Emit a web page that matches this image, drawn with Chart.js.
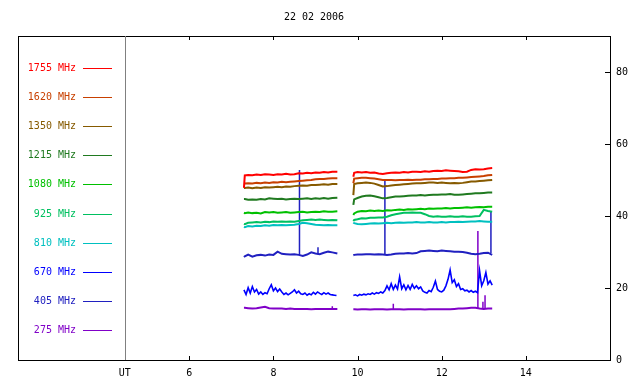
<!DOCTYPE html>
<html><head><meta charset="utf-8">
<script src="https://cdn.jsdelivr.net/npm/chart.js@4/dist/chart.umd.min.js"></script>
<style>html,body{margin:0;padding:0;background:#fff}canvas{display:block}</style>
</head><body>
<canvas id="c" width="640" height="384"></canvas>
<script>
// ---- data ----
const title = '22 02 2006';
const freqs = ['1755 MHz','1620 MHz','1350 MHz','1215 MHz','1080 MHz','925 MHz','810 MHz','670 MHz','405 MHz','275 MHz'];
const colors = ['#ff0000','#c84000','#865a00','#207a20','#00c000','#00c060','#00c0c0','#0000ff','#2020c0','#8000c8'];
const xTickVals = [4.47, 6, 8, 10, 12, 14];
const xTickLabels = ['UT', '6', '8', '10', '12', '14'];
const yTickVals = [0, 20, 40, 60, 80];

// segment 1 and 2 time grids (UT hours)
const t1 = [7.3,7.32,7.4,7.5,7.6,7.7,7.8,7.9,8.0,8.1,8.2,8.3,8.4,8.5,8.6,8.7,8.8,8.9,9.0,9.1,9.2,9.3,9.4,9.52];
const t2 = [9.9,9.92,10.0,10.1,10.2,10.3,10.4,10.5,10.6,10.7,10.8,10.9,11.0,11.1,11.2,11.3,11.4,11.5,11.6,11.7,11.8,11.9,12.0,12.1,12.2,12.3,12.4,12.5,12.6,12.7,12.8,12.9,13.0,13.1,13.2];

const f1755a = [47.8,51.3,51.4,51.3,51.5,51.4,51.6,51.5,51.4,51.6,51.5,51.7,51.5,51.6,51.9,51.8,52.0,51.9,52.1,52.0,52.2,52.1,52.3,52.3];
const f1755b = [50.9,52.0,52.2,52.1,52.2,52.0,52.1,51.8,51.7,51.9,52.0,52.1,52.0,52.2,52.1,52.3,52.3,52.2,52.4,52.3,52.5,52.6,52.5,52.7,52.6,52.5,52.4,52.2,52.3,52.8,53.0,52.9,53.0,53.2,53.3];
const f1620a = [49.0,49.0,49.1,49.0,49.2,49.1,49.3,49.2,49.4,49.3,49.5,49.4,49.5,49.6,49.7,49.8,49.9,50.0,50.2,50.3,50.3,50.4,50.5,50.5];
const f1620b = [49.1,50.4,50.5,50.6,50.6,50.5,50.4,50.2,50.0,50.0,50.0,49.9,50.0,50.0,50.1,50.0,50.1,50.1,50.2,50.2,50.3,50.3,50.4,50.4,50.5,50.5,50.6,50.6,50.7,50.8,50.9,51.0,51.1,51.3,51.4];
const f1350a = [47.8,47.8,47.9,47.7,47.9,47.8,48.0,47.9,48.0,48.1,48.0,48.2,48.1,48.3,48.4,48.5,48.4,48.6,48.6,48.7,48.8,48.7,48.9,48.9];
const f1350b = [45.8,48.9,49.1,49.2,49.3,49.2,49.0,48.6,48.2,48.3,48.5,48.6,48.7,48.8,48.9,49.0,49.1,49.1,49.2,49.3,49.3,49.2,49.3,49.2,49.1,49.2,49.1,49.2,49.4,49.6,49.6,49.7,49.8,49.9,50.0];
const f1215a = [44.7,44.7,44.5,44.6,44.5,44.7,44.6,44.9,44.8,44.7,44.8,44.6,44.7,44.8,44.7,44.8,44.9,44.7,44.9,44.8,45.0,44.8,45.0,45.1];
const f1215b = [43.1,44.6,45.0,45.4,45.6,45.7,45.5,45.2,44.9,45.0,45.2,45.4,45.4,45.5,45.6,45.7,45.7,45.8,45.7,45.8,45.9,45.9,46.0,46.0,46.1,45.9,45.9,46.0,46.1,46.2,46.3,46.3,46.4,46.5,46.5];
const f1080a = [40.9,40.8,41.0,40.8,40.9,40.7,41.1,41.0,41.1,40.9,41.0,41.1,40.9,41.0,41.1,41.2,41.0,41.1,41.2,41.1,41.3,41.2,41.2,41.3];
const f1080b = [40.3,40.7,41.2,41.4,41.3,41.5,41.4,41.5,41.4,41.6,41.5,41.7,41.8,41.7,41.9,41.8,41.9,42.0,41.9,42.1,42.0,42.1,42.1,42.2,42.1,42.2,42.2,42.3,42.4,42.3,42.4,42.5,42.4,42.6,42.6];
const f925a = [37.8,37.7,38.1,38.2,38.3,38.2,38.4,38.3,38.5,38.4,38.5,38.4,38.5,38.4,38.6,38.8,38.9,39.0,38.9,39.0,38.9,38.8,38.9,38.8];
const f925b = [38.6,38.9,39.1,39.4,39.3,39.5,39.5,39.6,39.6,39.8,40.2,40.5,40.7,40.9,40.9,41.0,40.9,40.9,40.5,40.0,39.8,39.9,39.8,39.8,39.9,39.8,39.8,39.9,39.8,39.8,39.9,40.0,41.7,41.4,41.2];
const f810a = [37.0,36.9,37.2,37.1,37.3,37.2,37.4,37.3,37.5,37.4,37.5,37.4,37.5,37.6,37.8,38.1,38.0,37.8,37.6,37.5,37.4,37.5,37.4,37.4];
const f810b = [38.2,38.0,37.8,37.7,37.8,37.9,38.0,37.9,38.0,38.1,38.0,38.1,38.2,38.1,38.2,38.2,38.3,38.2,38.2,38.3,38.2,38.2,38.3,38.2,38.3,38.3,38.4,38.3,38.4,38.5,38.5,38.6,38.5,38.4,38.4];
const f405a = [28.6,28.8,29.3,28.7,29.1,29.2,29.0,29.3,29.2,30.1,29.5,29.4,29.3,29.4,29.2,28.9,29.3,29.9,29.6,29.4,29.8,30.1,29.9,29.6];
const f405b = [29.1,29.2,29.3,29.3,29.4,29.4,29.3,29.4,29.3,29.2,29.3,29.5,29.6,29.6,29.7,29.6,29.7,30.2,30.3,30.4,30.3,30.2,30.4,30.3,30.2,30.1,30.1,30.0,29.8,29.5,29.4,29.5,29.7,29.8,29.2];
const f275a = [14.5,14.5,14.4,14.3,14.4,14.6,14.8,14.4,14.3,14.3,14.3,14.2,14.3,14.2,14.2,14.2,14.2,14.1,14.2,14.2,14.2,14.2,14.2,14.2];
const f275b = [14.1,14.1,14.0,14.1,14.1,14.0,14.1,14.1,14.1,14.0,14.1,14.1,14.1,14.0,14.1,14.1,14.1,14.1,14.0,14.1,14.1,14.1,14.1,14.1,14.1,14.2,14.3,14.3,14.4,14.5,14.5,14.3,14.2,14.3,14.3];

// 670 MHz is noisier: finer time grid
const tb1 = [7.30,7.35,7.40,7.45,7.50,7.55,7.60,7.65,7.70,7.75,7.80,7.85,7.90,7.95,8.00,8.05,8.10,8.15,8.20,8.25,8.30,8.35,8.40,8.45,8.50,8.55,8.60,8.65,8.70,8.75,8.80,8.85,8.90,8.95,9.00,9.05,9.10,9.15,9.20,9.25,9.30,9.35,9.40,9.45,9.50];
const f670a = [19.5,18.2,20.1,18.6,20.4,18.9,19.6,18.3,18.9,18.2,18.7,18.4,19.8,20.9,19.2,20.0,19.0,19.7,18.9,18.2,18.6,18.1,18.5,18.9,19.5,18.6,19.1,18.4,18.2,18.6,18.0,18.4,18.1,18.8,18.3,18.9,18.5,18.2,18.7,18.3,18.6,18.2,18.1,18.0,17.9];
const tb2 = [9.90,9.95,10.00,10.05,10.10,10.15,10.20,10.25,10.30,10.35,10.40,10.45,10.50,10.55,10.60,10.65,10.70,10.75,10.80,10.85,10.90,10.95,11.00,11.05,11.10,11.15,11.20,11.25,11.30,11.35,11.40,11.45,11.50,11.55,11.60,11.65,11.70,11.75,11.80,11.85,11.90,11.95,12.00,12.05,12.10,12.15,12.20,12.25,12.30,12.35,12.40,12.45,12.50,12.55,12.60,12.65,12.70,12.75,12.80,12.85,12.90,12.95,13.00,13.05,13.10,13.15,13.20];
const f670b = [17.9,18.1,17.8,18.2,18.0,18.3,18.1,18.4,18.2,18.6,18.3,18.7,18.5,18.9,18.6,19.3,20.6,19.5,21.2,19.6,20.8,19.7,23.1,19.8,20.9,19.5,20.7,19.6,21.0,19.9,20.6,19.8,20.3,19.2,18.8,18.6,19.3,19.0,20.2,21.9,19.6,19.1,18.9,19.4,20.6,22.4,25.0,21.5,22.3,20.4,21.2,19.6,19.8,19.2,19.4,18.9,19.3,18.8,19.1,18.7,24.8,20.6,22.0,24.3,21.1,22.0,20.8];

// isolated spikes
const spike405T = [8.62, 9.06, 10.65, 13.17];
const spike405Top = [52.8, 31.3, 49.8, 41.2];
const spike405Base = [29.2, 29.4, 29.3, 29.7];
const spike275T = [9.40, 10.85, 12.86, 12.98, 13.03];
const spike275Top = [14.9, 15.6, 35.8, 16.2, 18.0];
const spike275Base = [14.2, 14.0, 14.4, 14.2, 14.2];

// ---- build ----
const FONT = {family: '"DejaVu Sans Mono", monospace', size: 10};
function seg(ta, va, tb, vb) {
  const out = ta.map((t, i) => ({x: t, y: va[i]}));
  out.push({x: (ta[ta.length-1] + tb[0]) / 2, y: null});
  tb.forEach((t, i) => out.push({x: t, y: vb[i]}));
  return out;
}
function spikes(T, top, base) {
  const out = [];
  T.forEach((t, i) => { out.push({x: t, y: base[i]}, {x: t, y: top[i]}, {x: t, y: null}); });
  return out;
}
const seriesData = [
  seg(t1, f1755a, t2, f1755b), seg(t1, f1620a, t2, f1620b), seg(t1, f1350a, t2, f1350b),
  seg(t1, f1215a, t2, f1215b), seg(t1, f1080a, t2, f1080b), seg(t1, f925a, t2, f925b),
  seg(t1, f810a, t2, f810b), seg(tb1, f670a, tb2, f670b), seg(t1, f405a, t2, f405b),
  seg(t1, f275a, t2, f275b)
];
const datasets = seriesData.map((d, i) => ({
  label: freqs[i], data: d, borderColor: colors[i], borderWidth: i === 7 ? 1.6 : 2,
  pointRadius: 0, tension: 0, spanGaps: false, fill: false
}));
datasets.push({label: '405 spikes', data: spikes(spike405T, spike405Top, spike405Base), borderColor: colors[8], borderWidth: 1.5, pointRadius: 0, spanGaps: false});
datasets.push({label: '275 spikes', data: spikes(spike275T, spike275Top, spike275Base), borderColor: colors[9], borderWidth: 1.5, pointRadius: 0, spanGaps: false});

const decor = {
  id: 'decor',
  afterDraw(chart) {
    const ctx = chart.ctx, a = chart.chartArea, xs = chart.scales.x, ys = chart.scales.y;
    ctx.save();
    // frame
    ctx.strokeStyle = '#000'; ctx.lineWidth = 1;
    ctx.strokeRect(Math.round(a.left) + 0.5, Math.round(a.top) + 0.5, Math.round(a.right - a.left), Math.round(a.bottom - a.top));
    // UT separator
    const ux = Math.round(xs.getPixelForValue(xTickVals[0])) + 0.5;
    ctx.strokeStyle = '#808080';
    ctx.beginPath(); ctx.moveTo(ux, a.top); ctx.lineTo(ux, a.bottom); ctx.stroke();
    // x ticks (top & bottom, inward)
    ctx.strokeStyle = '#000';
    ctx.beginPath();
    xTickVals.slice(1).forEach(v => {
      const px = Math.round(xs.getPixelForValue(v)) + 0.5;
      ctx.moveTo(px, a.bottom); ctx.lineTo(px, a.bottom - 4);
      ctx.moveTo(px, a.top); ctx.lineTo(px, a.top + 4);
    });
    yTickVals.slice(1).forEach(v => {
      const py = Math.round(ys.getPixelForValue(v)) + 0.5;
      ctx.moveTo(a.right, py); ctx.lineTo(a.right - 5, py);
    });
    ctx.stroke();
    // title
    ctx.font = '10px "DejaVu Sans Mono", monospace';
    ctx.fillStyle = '#000'; ctx.textAlign = 'center'; ctx.textBaseline = 'middle';
    ctx.fillText(title, (a.left + a.right) / 2, 17);
    // legend
    freqs.forEach((f, i) => {
      const y = Math.round(a.top + 31.5 + 29.2 * i);
      ctx.fillStyle = colors[i]; ctx.textAlign = 'right';
      ctx.fillText(f, a.left + 58, y);
      ctx.strokeStyle = colors[i]; ctx.lineWidth = 1;
      ctx.beginPath(); ctx.moveTo(a.left + 65, y + 0.5); ctx.lineTo(a.left + 94, y + 0.5); ctx.stroke();
    });
    ctx.restore();
  }
};

new Chart(document.getElementById('c'), {
  type: 'line',
  data: {datasets},
  options: {
    responsive: false, animation: false, devicePixelRatio: 1,
    layout: {padding: {top: 36, left: 18, right: 0, bottom: 0}},
    plugins: {legend: {display: false}, tooltip: {enabled: false}, title: {display: false}},
    scales: {
      x: {
        type: 'linear', position: 'bottom', min: 1.93, max: 16,
        grid: {display: false, drawTicks: false}, border: {display: false},
        afterBuildTicks: s => { s.ticks = xTickVals.map(v => ({value: v})); },
        afterFit: s => { s.height = 24; },
        ticks: {font: FONT, color: '#000', padding: 7, maxRotation: 0, autoSkip: false,
          callback: (v) => { const i = xTickVals.indexOf(v); return i >= 0 ? xTickLabels[i] : ''; }}
      },
      y: {
        type: 'linear', position: 'right', min: 0, max: 90,
        grid: {display: false, drawTicks: false}, border: {display: false},
        afterBuildTicks: s => { s.ticks = yTickVals.map(v => ({value: v})); },
        afterFit: s => { s.width = 30; },
        ticks: {font: FONT, color: '#000', padding: 6, autoSkip: false}
      }
    }
  },
  plugins: [decor]
});
</script>
</body></html>
